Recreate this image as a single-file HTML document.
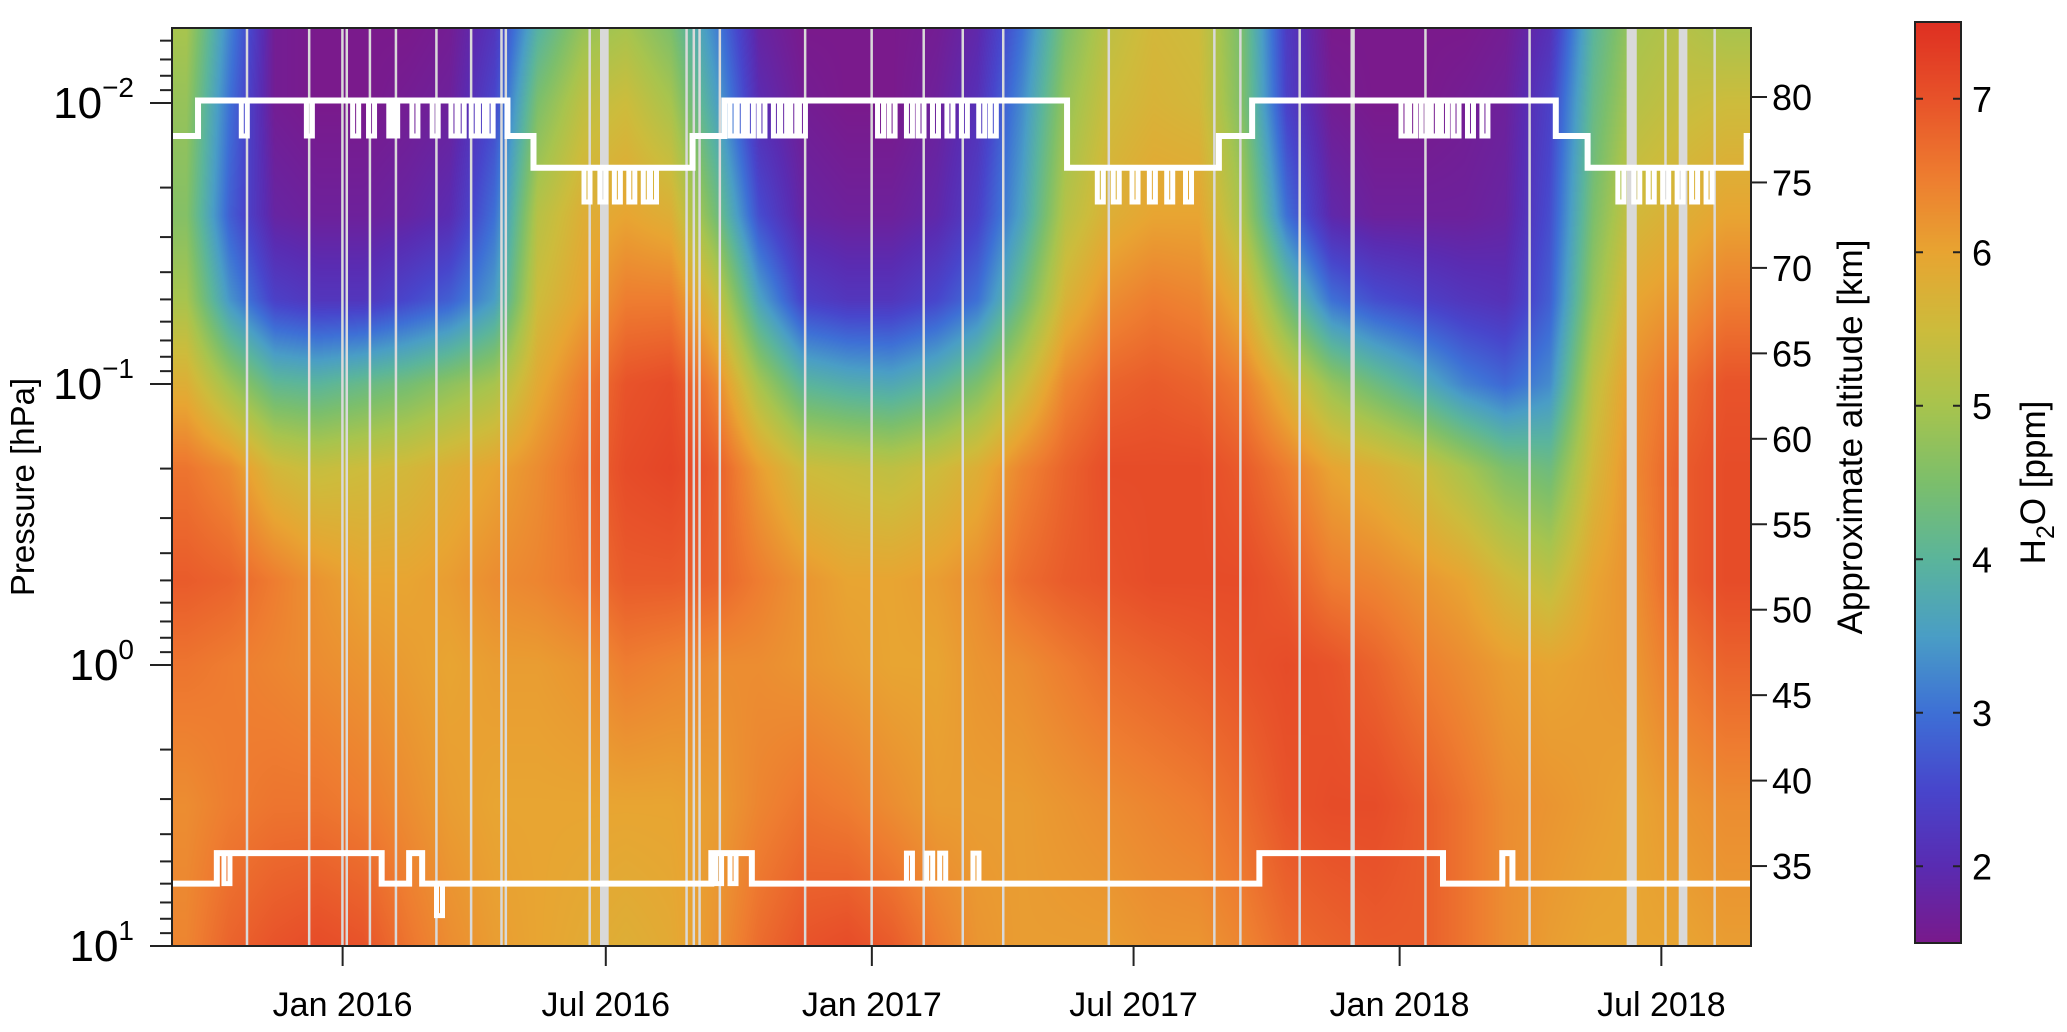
<!DOCTYPE html>
<html><head><meta charset="utf-8">
<style>
html,body{margin:0;padding:0;background:#fff;}
#wrap{position:relative;width:2067px;height:1032px;overflow:hidden;font-family:"Liberation Sans",Arial,sans-serif;}
canvas{position:absolute;left:0;top:0;}
svg{position:absolute;left:0;top:0;}
</style></head>
<body>
<div id="wrap">
<canvas id="heat" width="2067" height="1032"></canvas>
<svg id="ov" width="2067" height="1032"></svg>
</div>
<script>
// ---------- data ----------
const months = ["2015-09","2015-10","2015-11","2015-12","2016-01","2016-02","2016-03","2016-04","2016-05","2016-06","2016-07","2016-08",
"2016-09","2016-10","2016-11","2016-12","2017-01","2017-02","2017-03","2017-04","2017-05","2017-06","2017-07","2017-08",
"2017-09","2017-10","2017-11","2017-12","2018-01","2018-02","2018-03","2018-04","2018-05","2018-06","2018-07","2018-08"];
const levelsLogP = [-2.27,-2,-1.6,-1.3,-1,-0.7,-0.3,0,0.5,1];
const h2o = [
[5.0,4.8,4.6,5.0,5.8,6.6,6.9,6.6,6.3,6.4],
[3.2,3.0,2.8,3.4,4.9,6.3,6.8,6.5,6.5,6.8],
[1.6,1.6,1.8,2.4,4.1,5.6,6.5,6.4,6.6,7.0],
[1.5,1.5,1.7,2.2,4.0,5.4,6.2,6.3,6.6,7.1],
[1.5,1.5,1.7,2.2,4.2,5.5,6.0,6.2,6.5,7.0],
[1.5,1.6,1.8,2.5,4.4,5.6,6.0,6.1,6.3,6.6],
[1.6,1.7,2.0,2.8,4.7,5.8,6.1,6.0,6.1,6.3],
[2.2,2.5,3.0,3.5,5.0,6.0,6.3,6.1,6.0,6.1],
[3.9,4.5,5.2,5.5,5.9,6.3,6.4,6.1,6.0,6.0],
[4.8,5.3,5.8,6.0,6.5,6.7,6.6,6.2,6.0,5.9],
[5.0,5.5,6.0,6.5,7.0,7.1,6.9,6.5,6.0,5.8],
[4.5,5.0,5.8,6.5,7.1,7.2,6.9,6.4,6.0,5.9],
[3.2,3.6,4.4,5.5,6.4,6.9,6.8,6.3,6.1,6.2],
[1.8,2.0,2.6,3.6,5.0,6.1,6.5,6.3,6.4,6.7],
[1.5,1.6,1.8,2.4,4.0,5.5,6.2,6.2,6.6,7.0],
[1.5,1.5,1.7,2.2,3.8,5.4,6.0,6.1,6.5,7.1],
[1.5,1.5,1.7,2.2,3.7,5.3,6.0,6.0,6.3,6.9],
[1.6,1.7,1.9,2.5,4.0,5.5,6.1,6.0,6.1,6.5],
[1.9,2.1,2.4,3.0,4.5,5.8,6.3,6.2,6.1,6.2],
[3.0,3.3,3.6,4.3,5.4,6.4,6.7,6.3,6.1,6.1],
[4.5,4.8,5.2,5.7,6.4,6.8,6.9,6.5,6.2,6.1],
[5.3,5.5,5.8,6.3,6.8,7.1,7.0,6.7,6.3,6.1],
[5.6,5.7,6.0,6.5,6.9,7.1,7.1,6.8,6.4,6.2],
[5.5,5.6,6.0,6.4,6.8,7.1,7.1,6.9,6.5,6.2],
[4.4,4.5,5.0,5.8,6.5,6.9,7.1,7.0,6.7,6.4],
[2.3,2.4,3.0,4.3,5.7,6.5,6.9,7.1,7.0,6.7],
[1.5,1.6,1.9,3.0,4.8,6.0,6.5,7.0,7.1,6.8],
[1.5,1.5,1.7,2.6,4.3,5.8,6.4,6.8,7.1,6.9],
[1.5,1.5,1.7,2.4,3.8,5.5,6.2,6.5,6.9,6.9],
[1.5,1.6,1.7,2.2,3.2,5.0,6.0,6.3,6.6,6.6],
[1.6,1.7,1.8,2.1,2.9,4.5,5.6,6.1,6.3,6.3],
[2.1,2.4,2.6,2.8,3.3,4.3,5.3,6.0,6.2,6.1],
[4.0,4.2,4.5,4.8,5.3,5.6,6.0,6.1,6.1,6.0],
[5.0,5.2,5.6,6.0,6.3,6.4,6.3,6.2,6.0,6.0],
[5.2,5.4,5.8,6.2,6.7,6.9,6.9,6.6,6.2,6.0],
[5.0,5.5,6.0,6.5,7.0,7.1,7.1,6.8,6.3,6.1]];
const gaps = [[-67,-66],[-24,-23],[-1,0],[2,3],[18,19],[36,37],[64,65],[88,89],[109,110],[112,113],[170,171],[178,184],[237,238],[242,243],[246,247],[260,261],[319,320],[365,366],[401,402],[428,429],[456,457],[529,530],[602,603],[620,621],[661,662],[697,700],[748,749],[820,821],[888,895],[914,915],[924,930],[948,949]];
const topSegs = [[-128,-100,0.0131],[-100,114,0.0098],[114,132,0.0131],[132,242,0.017],[242,264,0.0131],[264,501,0.0098],[501,606,0.017],[606,629,0.0131],[629,839,0.0098],[839,861,0.0131],[861,971,0.017],[971,974,0.0131]];
const topDips = [[-68,0.0131],[-23,0.0131],[9,0.0131],[20,0.0131],[34,0.0131],[36,0.0131],[50,0.0131],[64,0.0131],[77,0.0131],[82,0.0131],[91,0.0131],[96,0.0131],[102,0.0131],
[270,0.0131],[275,0.0131],[282,0.0131],[290,0.0131],[300,0.0131],[305,0.0131],[312,0.0131],[318,0.0131],
[372,0.0131],[380,0.0131],[392,0.0131],[400,0.0131],[410,0.0131],[420,0.0131],[430,0.0131],[442,0.0131],[450,0.0131],
[734,0.0131],[740,0.0131],[748,0.0131],[755,0.0131],[762,0.0131],[770,0.0131],[780,0.0131],[790,0.0131],
[169,0.0225],[180,0.0225],[190,0.0225],[200,0.0225],[210,0.0225],[215,0.0225],
[524,0.0225],[535,0.0225],[548,0.0225],[560,0.0225],[572,0.0225],[585,0.0225],
[884,0.0225],[895,0.0225],[905,0.0225],[915,0.0225],[925,0.0225],[935,0.0225],[945,0.0225]];
const botSegs = [[-128,-87,6.0],[-87,27,4.67],[27,46,6.0],[46,55,4.67],[55,255,6.0],[255,283,4.67],[283,634,6.0],[634,761,4.67],[761,802,6.0],[802,809,4.67],[809,974,6.0]];
const botSpikes = [[-80,6.0],[67,7.8],[260,6.0],[270,6.0],[392,4.67],[406,4.67],[415,4.67],[438,4.67]];
const xTickLabels = ["Jan 2016","Jul 2016","Jan 2017","Jul 2017","Jan 2018","Jul 2018"];
const xTickDates = ["2016-01-01","2016-07-01","2017-01-01","2017-07-01","2018-01-01","2018-07-01"];
const altTicks = [80,75,70,65,60,55,50,45,40,35];
const cbTicks = [2,3,4,5,6,7];
const cmapVals = [1.5,2.0,2.5,3.0,3.5,4.0,4.5,5.0,5.5,6.0,6.5,7.0,7.5];
const cmapCols = ["#7a1a8c","#5a2cb2","#4846cc","#3e70d6","#4a9ec6","#5bb59c","#7cbf6c","#a8c44e","#cdbc3c","#e8a532","#ee7d30","#e8532a","#df3022"];

// ---------- geometry ----------
const PL=172, PR=1751, PT=28, PB=946;
const D0=-118, D1=974;
const DEC=281, Y0=665;
function dayOf(s){return Math.round((Date.parse(s)-Date.parse("2016-01-01"))/86400000);}
function xOf(d){return PL+(d-D0)*(PR-PL)/(D1-D0);}
function yOfLog(l){return Y0+l*DEC;}
function yOfP(p){return yOfLog(Math.log10(p));}
function altY(a){return 97+(80-a)*17.09;}
const CBL=1915, CBR=1961, CBT=22, CBB=943;
function cbY(v){return CBB-(v-1.5)*(CBB-CBT)/6;}
function hex(c){return [parseInt(c.slice(1,3),16),parseInt(c.slice(3,5),16),parseInt(c.slice(5,7),16)];}
const cmapRGB=cmapCols.map(hex);
function cmap(v){
  if(v<=cmapVals[0])return cmapRGB[0];
  for(let i=1;i<cmapVals.length;i++){if(v<=cmapVals[i]){const t=(v-cmapVals[i-1])/(cmapVals[i]-cmapVals[i-1]);const a=cmapRGB[i-1],b=cmapRGB[i];return [a[0]+(b[0]-a[0])*t,a[1]+(b[1]-a[1])*t,a[2]+(b[2]-a[2])*t];}}
  return cmapRGB[cmapRGB.length-1];
}
const cv=document.getElementById('heat');const ctx=cv.getContext('2d');
const mDays=months.map(m=>dayOf(m+"-15"));
const W=PR-PL,H=PB-PT;
const img=ctx.createImageData(W,H);
function interp1(arr,v){
  if(v<=arr[0])return [0,0];
  for(let i=1;i<arr.length;i++){if(v<=arr[i])return [i-1,(v-arr[i-1])/(arr[i]-arr[i-1])];}
  return [arr.length-2,1];
}
const colIdx=[];for(let x=0;x<W;x++){const d=D0+(x+0.5)*(D1-D0)/W;colIdx.push(interp1(mDays,d));}
for(let y=0;y<H;y++){
  const l=(PT+y+0.5-Y0)/DEC;const [j,u]=interp1(levelsLogP,l);
  for(let x=0;x<W;x++){
    const [i,t]=colIdx[x];
    const v=(1-t)*((1-u)*h2o[i][j]+u*h2o[i][j+1])+t*((1-u)*h2o[i+1][j]+u*h2o[i+1][j+1]);
    const c=cmap(v);const k=(y*W+x)*4;
    img.data[k]=c[0];img.data[k+1]=c[1];img.data[k+2]=c[2];img.data[k+3]=255;
  }
}
ctx.putImageData(img,PL,PT);
for(let y=CBT;y<CBB;y++){const v=1.5+(CBB-y)*6/(CBB-CBT);const c=cmap(v);ctx.fillStyle=`rgb(${c[0]|0},${c[1]|0},${c[2]|0})`;ctx.fillRect(CBL,y,CBR-CBL,1);}

const svg=document.getElementById('ov');const NS="http://www.w3.org/2000/svg";
function mk(tag,at,parent){const e=document.createElementNS(NS,tag);for(const k in at)e.setAttribute(k,at[k]);(parent||svg).appendChild(e);return e;}
const gG=mk('g',{});


gaps.forEach(g=>{const x0=xOf(g[0]),x1=Math.max(xOf(g[1]),x0+2.5);const r=mk('rect',{x:x0,y:PT,width:x1-x0,height:H,fill:'#d9d9d9'},gG);

});
function stepLine(segs,dips,spikes,name){
  const g=mk('g',{});
  
  
  let d="";segs.forEach((s,i)=>{const x0=Math.max(xOf(s[0]),PL),x1=Math.min(xOf(s[1]),PR),y=yOfP(s[2]);d+=(i?"L":"M")+x0+" "+y+"L"+x1+" "+y;});
  mk('path',{d:d,fill:'none',stroke:'#fff','stroke-width':6},g);
  (dips||[]).concat(spikes||[]).forEach(p=>{
    const seg=segs.find(s=>p[0]>=s[0]&&p[0]<=s[1]);if(!seg)return;
    const x=xOf(p[0]);
    const r=mk('path',{d:`M${x-3} ${yOfP(seg[2])}L${x-3} ${yOfP(p[1])}L${x+3} ${yOfP(p[1])}L${x+3} ${yOfP(seg[2])}`,fill:'none',stroke:'#fff','stroke-width':5},g);
    
    
  });
}
stepLine(topSegs,topDips,[],'upper-boundary-line');
stepLine(botSegs,[],botSpikes,'lower-boundary-line');
const fr=mk('rect',{x:PL,y:PT,width:W,height:H,fill:'none',stroke:'#222','stroke-width':2});


const la=mk('g',{});


for(let e=-3;e<=1;e++){for(let m=1;m<=9;m++){const l=e+Math.log10(m);const y=yOfLog(l);if(y<PT-0.5||y>PB+0.5)continue;
  mk('line',{x1:PL,x2:PL-(m==1?22:12),y1:y,y2:y,stroke:'#222','stroke-width':2},la);}}
[-2,-1,0,1].forEach(e=>{const y=yOfLog(e);const t=mk('text',{x:134,y:y+15,'text-anchor':'end','font-size':44,fill:'#000'},la);
  
  
  t.textContent='10';const s=mk('tspan',{dy:-21,'font-size':28},t);s.textContent=(e<0?'\u2212'+(-e):String(e));});
const yl=mk('text',{x:0,y:0,transform:`translate(34,${(PT+PB)/2}) rotate(-90)`,'text-anchor':'middle','font-size':33,fill:'#000'});


yl.textContent='Pressure [hPa]';
const xa=mk('g',{});


xTickDates.forEach((s,i)=>{const x=xOf(dayOf(s));mk('line',{x1:x,x2:x,y1:PB,y2:PB+20,stroke:'#222','stroke-width':2},xa);
  const t=mk('text',{x:x,y:1016,'text-anchor':'middle','font-size':34,fill:'#000'},xa);
  
  
  t.textContent=xTickLabels[i];});
const ra=mk('g',{});


altTicks.forEach(a=>{const y=altY(a);mk('line',{x1:PR,x2:PR+16,y1:y,y2:y,stroke:'#222','stroke-width':2},ra);
  const t=mk('text',{x:1772,y:y+13,'font-size':36,fill:'#000'},ra);
  
  
  t.textContent=a;});
const al=mk('text',{x:0,y:0,transform:`translate(1862,${(PT+PB)/2-50}) rotate(-90)`,'text-anchor':'middle','font-size':35,fill:'#000'});


al.textContent='Approximate altitude [km]';
const cb=mk('g',{});


mk('rect',{x:CBL,y:CBT,width:CBR-CBL,height:CBB-CBT,fill:'none',stroke:'#222','stroke-width':2},cb);
cbTicks.forEach(v=>{const y=cbY(v);mk('line',{x1:CBL,x2:CBL+8,y1:y,y2:y,stroke:'#222','stroke-width':2},cb);mk('line',{x1:CBR-8,x2:CBR,y1:y,y2:y,stroke:'#222','stroke-width':2},cb);
  const t=mk('text',{x:1972,y:y+13,'font-size':36,fill:'#000'},cb);
  
  
  t.textContent=v;});
const cl=mk('text',{x:0,y:0,transform:`translate(2045,${(CBT+CBB)/2}) rotate(-90)`,'text-anchor':'middle','font-size':35,fill:'#000'});


cl.textContent='H';const sub=mk('tspan',{dy:9,'font-size':25},cl);sub.textContent='2';const rest=mk('tspan',{dy:-9},cl);rest.textContent='O [ppm]';
</script>
</body></html>
